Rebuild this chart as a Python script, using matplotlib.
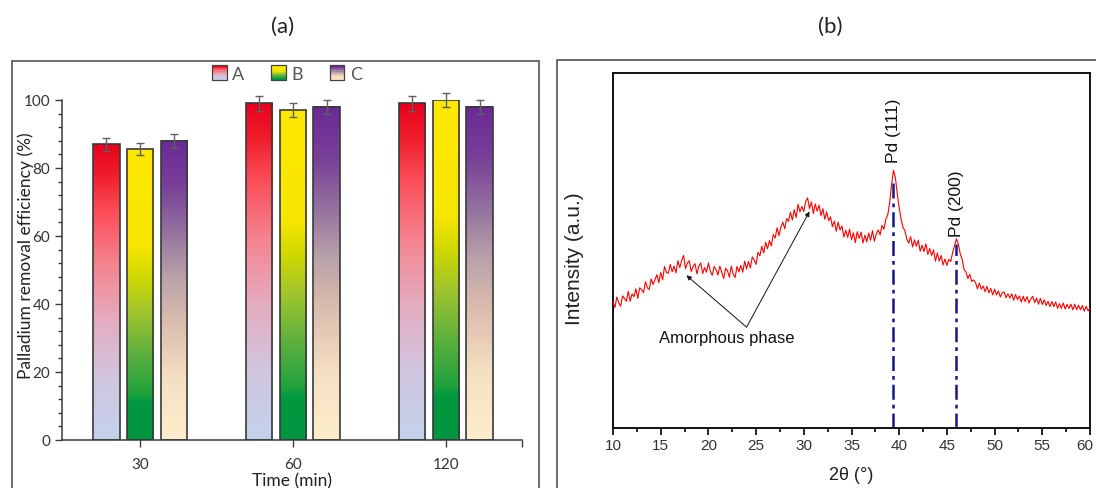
import numpy as np
import matplotlib
matplotlib.use("Agg")
import matplotlib.pyplot as plt
from matplotlib.colors import LinearSegmentedColormap
from matplotlib.patches import Rectangle
from matplotlib.legend_handler import HandlerBase
from matplotlib.ticker import MultipleLocator, FixedLocator, FuncFormatter

# ---------------- data: panel (a) ----------------
times = ["30", "60", "120"]
series = ["A", "B", "C"]
vals_A = [87.0, 99.0, 99.0]
vals_B = [85.5, 97.0, 100.0]
vals_C = [88.0, 98.0, 98.0]
err_A = [1.9, 2.1, 2.1]
err_B = [1.8, 2.0, 2.1]
err_C = [2.0, 2.1, 2.0]

# ---------------- data: panel (b) ----------------
two_theta = np.linspace(10.0, 60.0, 251)
intensity = [
    35.7, 33.9, 36.9, 35.3, 34.3,
    37.2, 36.5, 35.7, 38.5, 35.7,
    37.8, 37.0, 39.2, 36.5, 39.5,
    39.0, 38.1, 41.2, 39.5, 39.0,
    42.0, 40.4, 41.8, 43.2, 40.9,
    43.8, 41.7, 45.5, 43.8, 43.6,
    46.1, 44.0, 45.6, 43.7, 47.1,
    45.2, 47.2, 48.6, 44.9, 46.5,
    47.1, 44.1, 45.5, 46.3, 43.4,
    45.6, 46.5, 43.5, 45.2, 43.9,
    46.5, 44.2, 43.0, 45.5, 44.6,
    43.1, 45.6, 43.8, 42.1, 45.0,
    44.3, 42.5, 45.6, 43.3, 42.4,
    45.5, 44.0, 45.8, 43.9, 47.0,
    44.8, 46.9, 45.1, 48.2, 47.3,
    46.1, 49.5, 48.5, 51.2, 49.3,
    52.3, 50.5, 52.8, 51.3, 54.5,
    53.5, 56.4, 54.2, 56.6, 58.0,
    56.1, 59.0, 58.2, 60.8, 58.6,
    61.5, 59.3, 63.0, 60.9, 62.4,
    61.0, 63.8, 64.8, 61.8, 63.7,
    60.4, 63.1, 61.1, 62.8, 59.8,
    61.8, 58.8, 60.9, 58.4, 59.5,
    56.7, 58.3, 55.4, 58.0, 55.8,
    56.9, 53.8, 55.7, 53.7, 56.0,
    53.0, 55.0, 52.2, 55.3, 53.4,
    55.2, 52.1, 54.3, 52.4, 54.9,
    52.9, 55.6, 52.6, 54.7, 55.8,
    54.4, 57.1, 56.0, 58.8, 60.0,
    63.5, 68.5, 72.6, 70.5, 66.0,
    62.0, 58.8, 56.5, 55.6, 53.2,
    52.1, 53.9, 51.0, 53.0, 51.2,
    52.9, 49.8, 51.5, 49.7, 51.9,
    48.9, 50.6, 48.6, 50.2, 47.0,
    49.3, 47.0, 48.6, 45.9, 47.6,
    45.8, 47.5, 46.9, 49.4, 51.3,
    53.3, 51.8, 49.0, 47.5, 44.6,
    44.0, 42.1, 43.3, 41.3, 41.7,
    41.0, 39.2, 40.8, 39.1, 40.0,
    38.4, 39.9, 38.1, 39.3, 37.5,
    39.1, 37.5, 38.6, 36.9, 38.1,
    38.3, 36.7, 37.8, 36.6, 37.8,
    36.0, 37.6, 36.2, 37.2, 35.5,
    37.1, 35.6, 37.0, 35.2, 36.4,
    37.1, 35.3, 36.6, 34.9, 36.5,
    34.8, 36.1, 34.5, 35.7, 34.2,
    35.6, 34.2, 35.5, 33.7, 35.0,
    33.7, 35.2, 33.5, 34.8, 33.7,
    34.9, 33.3, 34.9, 33.3, 34.6,
    33.3, 34.5, 32.9, 34.3, 33.0,
    33.8,
]
peak_pos = [39.4, 46.0]
peak_top = [68.9, 51.9]
peak_labels = ["Pd (111)", "Pd (200)"]
peak_label_bottom = [75.0, 54.0]
amorph_text_xy = (21.9, 25.5)
amorph_arrow_tail = (24.0, 28.4)
amorph_targets = [(17.7, 43.0), (30.6, 61.0)]

# ---------------- gradients ----------------
cmap_A = LinearSegmentedColormap.from_list("gA", [
    (0.0, "#c4d2ec"), (0.2, "#d0c6e0"), (0.4, "#e4adc0"), (0.6, "#f5838f"),
    (0.78, "#fb4b56"), (0.9, "#ef1c2a"), (1.0, "#e8001c")])
cmap_B = LinearSegmentedColormap.from_list("gB", [
    (0.0, "#00963f"), (0.13, "#00983f"), (0.16, "#22a23e"), (0.3, "#5fb03e"),
    (0.45, "#a4c62c"), (0.56, "#cfd800"), (0.66, "#f6e600"), (1.0, "#ffe800")])
cmap_C = LinearSegmentedColormap.from_list("gC", [
    (0.0, "#fdedcc"), (0.2, "#f6e0c3"), (0.4, "#d9bcae"), (0.55, "#b8a0a8"),
    (0.7, "#93709f"), (0.85, "#783f98"), (1.0, "#6a2a95")])
cmaps = [cmap_A, cmap_B, cmap_C]


class GradientHandler(HandlerBase):
    def __init__(self, cmap):
        super().__init__()
        self.cmap = cmap

    def create_artists(self, legend, orig_handle, xdescent, ydescent,
                       width, height, fontsize, trans):
        arts = []
        n = 12
        h = height * 1.05
        w = h
        y0 = -ydescent - 0.02 * height
        x0 = -xdescent
        for i in range(n):
            c = self.cmap((i + 0.5) / n)
            r = Rectangle((x0, y0 + i * h / n), w, h / n + 0.05,
                          facecolor=c, edgecolor="none", transform=trans)
            arts.append(r)
        arts.append(Rectangle((x0, y0), w, h, facecolor="none",
                              edgecolor="#404040", lw=0.9, transform=trans))
        return arts


W, H = 1096, 489
fig = plt.figure(figsize=(W / 100, H / 100), dpi=100)

# panel frames
fig.patches.append(Rectangle((12 / W, -0.1), (539 - 12) / W, 1.1 - 62 / H,
                             transform=fig.transFigure, fill=False,
                             edgecolor="#606060", lw=1.3, clip_on=False))
fig.patches.append(Rectangle((557 / W, -0.1), 0.6, 1.1 - 61 / H,
                             transform=fig.transFigure, fill=False,
                             edgecolor="#606060", lw=1.3, clip_on=False))

lato = "Lato"
fig.text(283 / W, 1 - 27 / H, "(a)", ha="center", va="center",
         fontsize=16, family=lato, color="#222222")
fig.text(830 / W, 1 - 27 / H, "(b)", ha="center", va="center",
         fontsize=16, family=lato, color="#222222")

# ---------------- panel (a) ----------------
axA = fig.add_axes([62 / W, (H - 441) / H, (522 - 62) / W, (441 - 101) / H])
x = np.arange(len(times))
bw = 0.176
offs = [-0.222, 0.0, 0.222]
all_vals = [vals_A, vals_B, vals_C]
all_errs = [err_A, err_B, err_C]
for k in range(3):
    bars = axA.bar(x + offs[k], all_vals[k], width=bw, facecolor="none",
                   edgecolor="#3a3a3a", lw=1.2, zorder=3)
    for b in bars:
        x0, y0 = b.get_x(), b.get_y()
        axA.imshow(np.linspace(0, 1, 256).reshape(-1, 1), cmap=cmaps[k],
                   extent=(x0, x0 + b.get_width(), y0, y0 + b.get_height()),
                   origin="lower", aspect="auto", zorder=2, interpolation="bilinear")
    axA.errorbar(x + offs[k], all_vals[k], yerr=all_errs[k], fmt="none",
                 ecolor="#606060", elinewidth=1.0, capsize=3, capthick=1.0,
                 zorder=4, clip_on=False)

axA.set_xlim(-0.51, 2.497)
axA.set_ylim(0, 100)
axA.set_aspect("auto")
for s in ["top", "right"]:
    axA.spines[s].set_visible(False)
for s in ["left", "bottom"]:
    axA.spines[s].set_color("#3a3a3a")
    axA.spines[s].set_linewidth(1.1)
axA.yaxis.set_major_locator(MultipleLocator(20))
axA.yaxis.set_minor_locator(MultipleLocator(4))
axA.set_xticks(x)
axA.set_xticklabels(times)
axA.xaxis.set_minor_locator(FixedLocator([2.497]))
axA.tick_params(axis="both", which="major", direction="out", length=5,
                width=1, color="#3a3a3a", labelsize=11, labelcolor="#333333")
axA.tick_params(axis="y", which="minor", direction="out", length=3,
                width=1, color="#3a3a3a")
axA.tick_params(axis="x", which="minor", direction="out", length=5,
                width=1, color="#3a3a3a")
for t in axA.get_xticklabels() + axA.get_yticklabels():
    t.set_family(lato)
axA.tick_params(axis="x", pad=7)
axA.set_ylabel("Palladium removal efficiency (%)", fontsize=12.5,
               family=lato, color="#222222")
axA.yaxis.set_label_coords(-0.06, 0.545)
axA.set_xlabel("Time (min)", fontsize=12.5, family=lato, color="#222222",
               labelpad=1)

handles = [Rectangle((0, 0), 1, 1) for _ in series]
leg = fig.legend(handles, series, loc="center", bbox_to_anchor=(287 / W, 1 - 75 / H),
                 ncol=3, frameon=False, handlelength=0.8, handleheight=0.8,
                 handletextpad=0.3, columnspacing=1.5,
                 prop={"family": lato, "size": 13},
                 handler_map={h: GradientHandler(cm) for h, cm in zip(handles, cmaps)})
for t in leg.get_texts():
    t.set_color("#555555")

# ---------------- panel (b) ----------------
arial = "Liberation Sans"
axB = fig.add_axes([613 / W, (H - 429) / H, (1090 - 613) / W, (429 - 74) / H])
axB.plot(two_theta, intensity, color="#ff0000", lw=0.8, zorder=3)
for p, t in zip(peak_pos, peak_top):
    axB.plot([p, p], [0, t], color="#16168a", lw=1.8,
             linestyle=(0, (6, 2, 1.5, 2)), zorder=2)
for p, lab, yb in zip(peak_pos, peak_labels, peak_label_bottom):
    axB.text(p, yb, lab, rotation=90, ha="center", va="bottom",
             fontsize=12.5, family=arial, color="#111111")
axB.text(amorph_text_xy[0], amorph_text_xy[1], "Amorphous phase", ha="center",
         va="center", fontsize=12, family=arial, color="#111111")
for tx, ty in amorph_targets:
    axB.annotate("", xy=(tx, ty), xytext=amorph_arrow_tail,
                 arrowprops=dict(arrowstyle="-|>", color="#111111", lw=0.7,
                                 mutation_scale=7, shrinkA=0, shrinkB=0))
xmax_b = 60
axB.set_xlim(10, xmax_b)
axB.set_ylim(0, 100)
axB.set_yticks([])
axB.xaxis.set_major_locator(MultipleLocator(5))
axB.xaxis.set_minor_locator(MultipleLocator(2.5))
# last label drawn separately so that it stays inside the figure edge
axB.xaxis.set_major_formatter(FuncFormatter(
    lambda v, pos: "" if abs(v - xmax_b) < 1e-6 else f"{v:g}"))
axB.tick_params(axis="x", which="major", direction="out", length=5, width=1.2,
                labelsize=11, labelcolor="#333333", pad=2)
axB.tick_params(axis="x", which="minor", direction="out", length=3, width=1.2)
for t in axB.get_xticklabels():
    t.set_family(arial)
axB.annotate(f"{xmax_b:g}", xy=(xmax_b, 0), xycoords=("data", "axes fraction"),
             xytext=(-4, -7.5), textcoords="offset points", ha="center", va="top",
             fontsize=11, family=arial, color="#333333", annotation_clip=False)
for s in axB.spines.values():
    s.set_linewidth(1.4)
    s.set_color("#111111")
axB.set_xlabel("2θ (°)", fontsize=13, family=arial, color="#222222", labelpad=10)
axB.set_ylabel("Intensity (a.u.)", fontsize=15, family=arial, color="#222222")
axB.yaxis.set_label_coords(-0.06, 0.48)

fig.savefig("out.png", dpi=100)
